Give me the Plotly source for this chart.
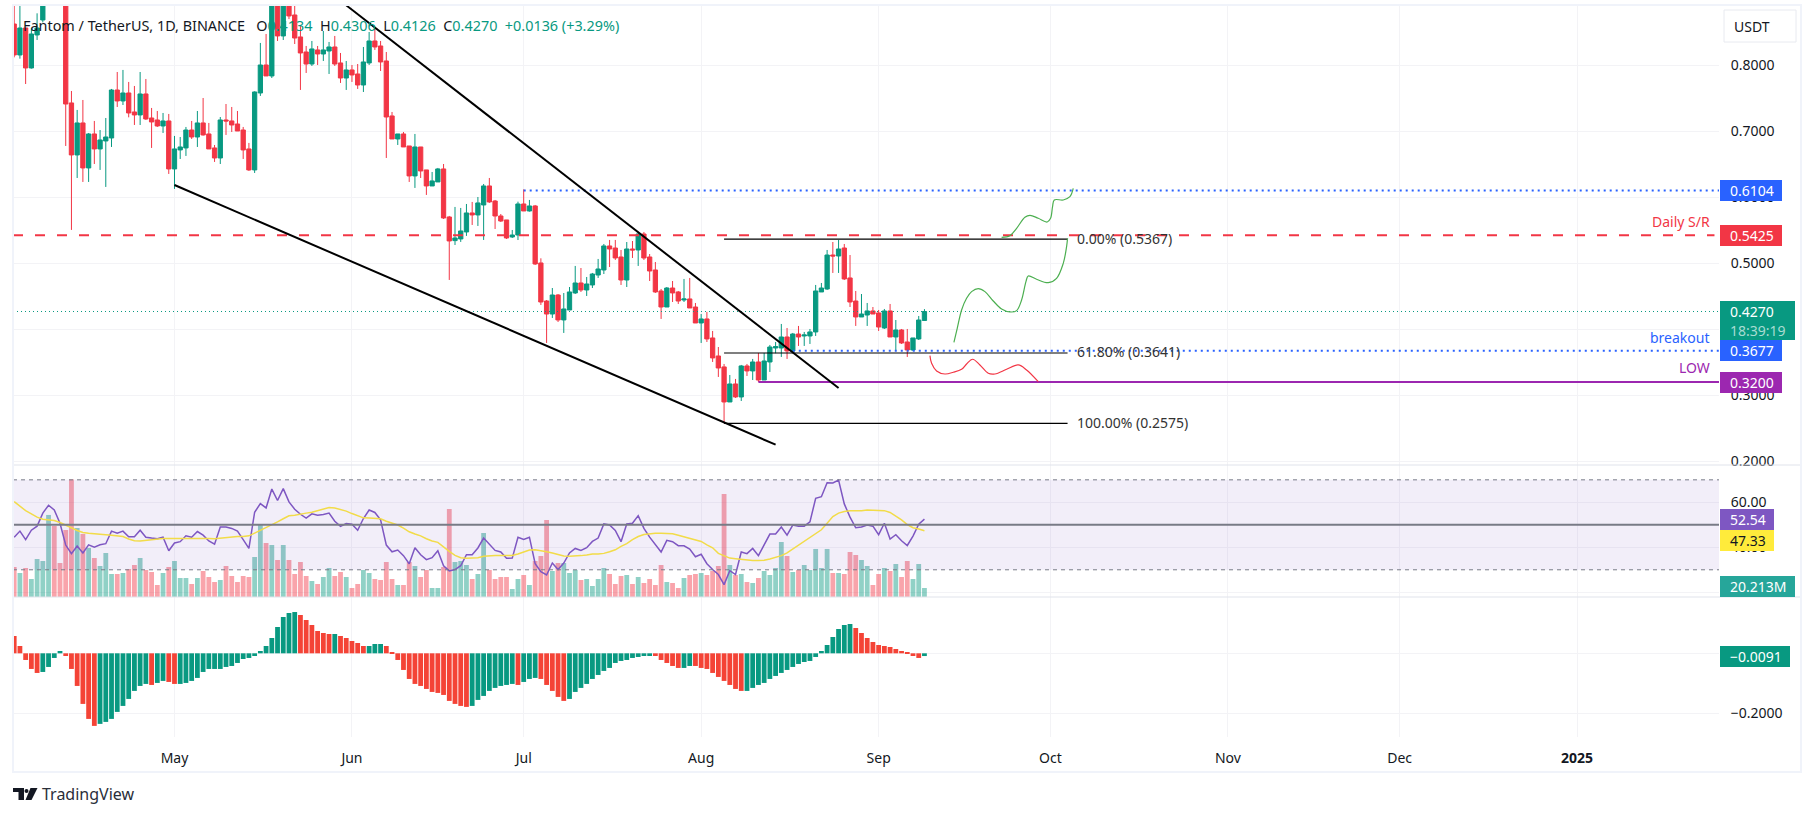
# plot.py
# Fantom / TetherUS daily chart with RSI + volume and MACD panes

import pandas as pd
import plotly.graph_objects as go
from plotly.subplots import make_subplots

# -------------------------------------------------
# 1. Data
# -------------------------------------------------
dates = pd.date_range("2024-04-03", periods=160, freq="D")

opens = [
    .8626,.8157,.8566,.796,.846,.8687,.92,.96,.945,.93,
    .743,.6642,.7127,.6445,.696,.6733,.6854,.6899,.7626,.746,
    .7581,.7293,.7248,.7566,.7202,.7172,.7081,.7157,.643,.6718,
    .6748,.702,.6914,.7127,.696,.6748,.6596,.7172,.7157,.7111,
    .702,.6733,.6415,.7581,.8005,.7839,.905,.8445,.905,.8763,
    .843,.8202,.802,.8233,.8172,.8217,.8278,.8036,.7808,.793,
    .7869,.7702,.8036,.8369,.8293,.8066,.7233,.6884,.696,.6778,
    .6324,.6763,.6415,.6172,.6233,.643,.5702,.5344,.5369,.5475,
    .5763,.5733,.5884,.6172,.5944,.5717,.5657,.5399,.5429,.5899,
    .5793,.5869,.5005,.4429,.4232,.452,.4142,.4293,.4551,.4702,
    .4596,.4672,.4823,.4899,.5263,.5232,.5096,.4747,.5217,.5202,
    .5444,.5096,.4899,.4581,.4338,.4626,.4566,.4444,.446,.4338,
    .4096,.4157,.3869,.3596,.343,.2899,.3172,.2975,.3445,.3369,
    .3505,.3232,.3505,.3717,.3717,.3884,.3672,.3929,.3899,.3899,
    .396,.4566,.4611,.5126,.5111,.5232,.4778,.4429,.4187,.4217,
    .4278,.4248,.402,.4278,.3884,.399,.3808,.3687,.3854,.4134,
]
highs = [
    .905,.90,.8566,.8561,.8788,.93,.975,.98,.96,.94,
    .7611,.7324,.7475,.6975,.7157,.702,.7202,.7642,.7899,.793,
    .7748,.7687,.7899,.7793,.7354,.7308,.7278,.7263,.693,.6914,
    .7066,.7157,.7308,.7505,.7127,.6793,.7217,.7414,.7369,.7308,
    .7066,.6824,.7606,.8339,.8475,.92,.92,.93,.925,.891,
    .8596,.8293,.8369,.8293,.852,.8354,.8445,.8187,.8066,.8005,
    .802,.8278,.8505,.8581,.8369,.8202,.7293,.696,.699,.6778,
    .696,.6763,.6415,.6384,.6445,.6505,.5718,.5854,.5839,.5899,
    .593,.6005,.6202,.6293,.596,.5747,.5657,.5505,.5934,.6121,
    .596,.5884,.5076,.4444,.4626,.4535,.455,.4641,.496,.4929,
    .4793,.4854,.5066,.5293,.5354,.5354,.5202,.5323,.5338,.5475,
    .5475,.5141,.502,.4611,.4641,.4732,.4581,.4763,.4778,.4399,
    .4232,.4263,.3975,.3732,.3475,.3308,.3248,.346,.3475,.3551,
    .3642,.3642,.3763,.3808,.4081,.402,.3945,.4051,.396,.4005,
    .4672,.4702,.5202,.5323,.5354,.5293,.5126,.4581,.4535,.4399,
    .4338,.4293,.4308,.4384,.4141,.4005,.4005,.3869,.4202,.4306,
]
lows = [
    .8121,.8101,.7717,.795,.8384,.865,.905,.925,.91,.6778,
    .5506,.6293,.6233,.6233,.6505,.6415,.6157,.6763,.7369,.7399,
    .7212,.7096,.7096,.7172,.6748,.7066,.6975,.6354,.6127,.6581,
    .6627,.6884,.6763,.6935,.6733,.6536,.6505,.6945,.699,.7005,
    .6581,.6399,.6369,.7536,.7839,.7808,.8369,.8384,.87,.8323,
    .7627,.7884,.799,.8005,.8066,.7869,.799,.7733,.7627,.7748,
    .7642,.7596,.8005,.8233,.7914,.6596,.6884,.6793,.6763,.6233,
    .6142,.6293,.6036,.6172,.6233,.5672,.4748,.5278,.5324,.5415,
    .5581,.5566,.5354,.5915,.552,.5626,.5369,.5384,.5353,.5793,
    .5783,.4975,.4369,.3793,.4172,.4111,.3945,.4293,.4535,.4566,
    .4505,.4626,.4778,.4838,.4944,.5051,.4672,.4641,.5081,.496,
    .5051,.4732,.4551,.4157,.4338,.4414,.4384,.4414,.4323,.4096,
    .3793,.3808,.3505,.3278,.2576,.2899,.296,.2914,.3293,.3232,
    .3202,.3232,.3354,.3637,.3581,.3551,.3657,.3748,.3748,.3778,
    .3899,.4566,.4596,.4854,.4854,.4747,.4338,.4051,.4187,.4051,
    .4232,.3975,.4005,.3884,.3687,.3778,.3581,.3672,.3838,.4126,
]
closes = [
    .8157,.8566,.796,.8475,.8566,.92,.96,.945,.93,.7414,
    .6642,.7127,.6445,.696,.6733,.6869,.6914,.7626,.746,.7581,
    .7278,.7248,.7566,.7187,.7142,.7081,.7157,.643,.6733,.6763,
    .702,.6914,.7127,.6945,.6733,.6596,.7172,.7157,.7096,.7005,
    .6718,.6415,.7596,.8005,.7839,.905,.8445,.905,.8748,.8414,
    .8187,.802,.8248,.8172,.8233,.8278,.802,.7808,.793,.7854,
    .7702,.8051,.8369,.8278,.8051,.7217,.6884,.696,.6763,.6324,
    .6763,.6399,.6172,.6248,.643,.5687,.5339,.5384,.549,.5763,
    .5733,.5915,.6172,.593,.5717,.5641,.5384,.5429,.5899,.5793,
    .5869,.499,.4414,.4232,.452,.4142,.4308,.4566,.4702,.4596,
    .4687,.4838,.4914,.5263,.5217,.5081,.4747,.5217,.5202,.5444,
    .5081,.4884,.4566,.4338,.4626,.4551,.4429,.446,.4323,.4096,
    .4157,.3854,.3566,.3414,.2899,.3172,.2975,.3445,.3369,.3505,
    .3232,.352,.3732,.3738,.3884,.3672,.3929,.3884,.3914,.396,
    .4581,.4626,.5126,.5111,.5217,.4763,.4414,.4187,.4232,.4278,
    .4232,.4035,.4278,.3884,.399,.3793,.3687,.3869,.4141,.4270,
]
volume_m = [
    67.4,53.9,65.2,40.4,85.4,80.9,184.3,159.5,76.4,150.5,
    264.4,155,141.6,110.1,87.6,69.7,98.9,51.7,51.7,53.9,
    62.9,71.9,87.6,60.7,56.2,27,53.9,67.4,80.9,42.7,
    42.7,29.2,42.7,58.4,44.9,33.7,38.2,69.7,47.2,33.7,
    47.2,44.9,89.9,161.8,121.3,116.8,83.1,116.8,83.1,51.7,
    78.6,47.2,36,29.2,44.9,65.2,47.2,56.2,44.9,20.2,
    29.2,60.7,53.9,40.4,38.2,78.6,40.4,27,27,78.6,
    69.7,44.9,60.7,20.2,20.2,67.4,197.7,78.6,80.9,71.9,
    40.4,51.7,143.8,60.7,40.4,44.9,44.9,18,40.4,49.4,
    27,80.9,92.1,173,58.4,76.4,76.4,53.9,60.7,38.2,
    40.4,24.7,40.4,65.2,51.7,29.2,47.2,49.4,29.2,44.9,
    31.5,40.4,27,71.9,33.7,31.5,20.2,42.7,49.4,51.7,
    53.9,49.4,58.4,69.7,231.4,71.9,49.4,51.7,33.7,31.5,
    42.7,58.4,49.4,65.2,123.6,92.1,56.2,60.7,71.9,60.7,
    107.9,65.2,107.9,53.9,53.9,51.7,101.1,94.4,83.1,69.7,
    27,51.7,65.2,58.4,74.2,44.9,80.9,40.4,74.2,20.213,
]
rsi = [
    44.5,47.2,43.4,47.6,49.4,55.2,58.7,56.6,50.7,41,
    37.2,40.6,37.5,41.1,40.1,41.1,41.6,47.2,46.3,47.2,
    44.7,44.7,47.6,44.5,44.1,43.8,44.5,38.5,41.9,42.5,
    45.1,44.5,47,45.4,42.8,41.4,49,49,48.4,47.2,
    43.4,39.5,55.6,59.4,57.5,65.9,60.8,66.1,60.2,56.9,
    54.7,53,54.9,54.3,54.6,55.2,51.6,49.3,50.6,50.3,
    47.6,52.8,56.6,55.5,52.2,41,38,38.8,36.3,32.7,
    39.8,36.7,34.5,35.4,38.5,31.8,29.5,30.1,31.8,36.7,
    36.7,39.7,44.1,41.1,38.6,37.9,35.1,35.2,44.5,43.5,
    44.5,32.7,29.2,27.7,33,30.1,33,37.5,39.5,38.6,
    39.8,42.6,44.1,50.4,49.9,47.5,42.5,50.4,50.7,54.1,
    48.4,44.5,41.1,37.9,43.1,42.5,40.7,40.7,39.2,35.8,
    36.9,32.7,30.1,27.9,23.4,29.6,27.9,37.9,37.2,39.5,
    36.3,41.1,45.9,45.9,49,45.4,49.9,49.4,49.4,51.3,
    61.8,62.5,68.7,68.6,69.9,59.3,53.4,48.7,49,49.9,
    49.4,45.6,50.7,43.7,45.6,42.9,40.8,45,50.3,52.54,
]
rsi_ma = [
    60.3,58.4,56.3,54.9,53.4,52.5,52.2,51.9,51,49.7,
    48.7,47.5,46.6,46.3,46,45.6,45.6,45.4,45.1,44.8,
    43.7,42.9,42.8,43.1,43.5,43.7,43.9,43.9,43.9,43.9,
    44.1,44.2,44.2,44.2,43.9,43.8,44.1,44.4,44.5,44.8,
    44.8,45.1,46.3,47.5,48.7,49.9,51.3,52.7,54,54.3,
    54.9,55.2,55.6,56.2,56.9,57.7,57.5,56.8,56.1,55,
    54,53.1,53,53,52.7,51.6,50.7,49.9,48.5,46.9,
    45.9,45.1,43.8,42.8,42.2,40.1,38.2,36.4,35.4,35.1,
    35.1,35.4,36,36.3,36.3,36.3,36.3,36.4,37,37.9,
    38.8,38.9,38.6,38,37.5,36.7,36.1,36,36,36.3,
    36.6,37,37,37.3,38,38.9,40.4,41.6,43.4,44.8,
    45.7,46,46.2,46.2,46.2,46,45.4,44.7,43.8,43.4,
    42.6,41.1,39.8,37.3,36.3,35.2,34.9,34.6,34.4,34.1,
    34.1,34.2,34.8,35.5,36.3,37.5,39.2,40.8,42.5,44.5,
    46.3,47.8,50.7,53.7,55.2,55.9,56.2,56.2,56.3,56.6,
    56.5,56.2,56.3,55.5,54,52.2,50.1,48.7,48.1,47.33,
]
macd_hist = [
    .0577,.0244,-.0222,-.0522,-.0655,-.0622,-.0455,-.0155,.0078,-.0089,
    -.0522,-.1088,-.1687,-.2187,-.242,-.2353,-.2287,-.2187,-.1954,-.1754,
    -.1521,-.1254,-.1088,-.1021,-.1055,-.0988,-.0921,-.0955,-.1021,-.1021,
    -.0988,-.0921,-.0821,-.0622,-.0522,-.0522,-.0522,-.0455,-.0422,-.0322,
    -.0189,-.0155,-.0089,.0078,.0244,.0511,.0877,.121,.1343,.1376,
    .1277,.111,.0944,.0744,.0677,.0644,.0644,.0577,.0511,.0411,
    .0344,.0244,.0244,.0311,.0311,.0244,.0044,-.0222,-.0555,-.0855,
    -.1021,-.1088,-.1188,-.1288,-.1321,-.1388,-.1587,-.1687,-.1754,-.1787,
    -.1754,-.1554,-.1421,-.1254,-.1154,-.1088,-.1055,-.1021,-.1055,-.0955,
    -.0855,-.0821,-.0855,-.1055,-.1254,-.1454,-.1587,-.1521,-.1288,-.1154,
    -.1021,-.0855,-.0722,-.0588,-.0488,-.0322,-.0255,-.0222,-.0155,-.0122,
    -.0089,-.0089,-.0089,-.0222,-.0322,-.0422,-.0488,-.0488,-.0422,-.0422,
    -.0488,-.0522,-.0655,-.0788,-.0921,-.1055,-.1188,-.1254,-.1254,-.1154,
    -.1055,-.0988,-.0855,-.0755,-.0655,-.0555,-.0455,-.0355,-.0289,-.0255,
    -.0122,.0078,.0278,.0544,.081,.0944,.0977,.0844,.0677,.0511,
    .0377,.0278,.0244,.0211,.0144,.0078,.0011,-.0089,-.0155,-.0091,
]
# g = histogram rising, r = falling
macd_dir = ("r"*5 + "g"*4 + "r"*6 + "g"*9 + "r" + "g"*2 + "r"*2 + "g"*21 + "r"*6 + "g"
            + "r"*5 + "g"*3 + "r"*15 + "g"*8 + "r" + "g"*3 + "r"*5 + "g"*15 + "r"*5
            + "g"*2 + "r"*9 + "g"*19 + "r"*12 + "g")

# drawings on the price pane
upper_x, upper_y = ["2024-05-31", "2024-08-25"], [.8909, .3111]
lower_x, lower_y = ["2024-05-01", "2024-08-14"], [.6186, .2252]
fib_levels = [0.5367, 0.3641, 0.2575]
fib_text = ["0.00% (0.5367)", "61.80% (0.3641)", "100.00% (0.2575)"]
fib_x = ["2024-08-05", "2024-10-04"]

# hand drawn paths: days after 1 May, price
path1_days = [136.15,136.73,137.49,138.36,139.24,140.4,141.57,143.02,144.48,145.93,
              147.1,147.97,148.73,149.13,150.59,152.63,154.08,155.25,155.83,156.0]
path1_px = [.3803,.4015,.4293,.447,.4571,.4616,.4571,.4429,.4308,.4263,
            .4283,.4444,.4722,.4808,.4758,.4707,.4773,.5,.5253,.5379]
path2_days = [144.48,145.93,147.1,148.55,149.43,150.88,152.45,153.03,153.38,153.68,155.25,156.41,156.99]
path2_px = [.5394,.5419,.553,.5697,.5727,.5682,.5626,.5682,.5859,.596,.596,.601,.6136]
path3_days = [131.96,132.25,133.12,134.58,136.04,137.49,138.36,139.41,140.69,142.15,143.31,145.35,147.39,148.84,150.88]
path3_px = [.3601,.3485,.3369,.3323,.3349,.3394,.3475,.3546,.346,.3333,.3323,.3394,.346,.3384,.3207]

month_ticks = ["2024-05-01","2024-06-01","2024-07-01","2024-08-01","2024-09-01",
               "2024-10-01","2024-11-01","2024-12-01","2025-01-01"]
month_text = ["May","Jun","Jul","Aug","Sep","Oct","Nov","Dec","<b>2025</b>"]

# -------------------------------------------------
# 2. Colors, helpers
# -------------------------------------------------
W, H = 1814, 816
GREEN, RED, BLUE, PURPLE = "#089981", "#f23645", "#2962ff", "#9c27b0"
TEXT, GRID = "#131722", "#f3f3f6"
FONT = "Noto Sans"
X_START, X_END = "2024-04-02 19:00", "2025-01-25 19:00"


def px(x):
    return x / W


def py(y):
    return 1 - y / H


def from_may(days):
    return pd.Timestamp("2024-05-01") + pd.to_timedelta(days, unit="D")


# -------------------------------------------------
# 3. Panes
# -------------------------------------------------
fig = make_subplots(
    rows=3, cols=1, shared_xaxes=True, vertical_spacing=0,
    specs=[[{}], [{"secondary_y": True}], [{}]],
)

fig.add_trace(go.Candlestick(
    x=dates, open=opens, high=highs, low=lows, close=closes,
    increasing=dict(line=dict(color=GREEN, width=1), fillcolor=GREEN),
    decreasing=dict(line=dict(color=RED, width=1), fillcolor=RED),
    whiskerwidth=0, showlegend=False,
), row=1, col=1)


def level(x0, x1, value, color, width, dash):
    fig.add_trace(go.Scatter(x=[x0, x1], y=[value, value], mode="lines", showlegend=False,
                             line=dict(color=color, width=width, dash=dash)), row=1, col=1)


level(X_START, X_END, 0.4270, GREEN, 1, "1px,3px")
level(X_START, "2025-01-25", 0.5425, RED, 2, "10px,12px")
level("2024-07-01", X_END, 0.6104, BLUE, 2, "2px,4px")
level("2024-08-17", X_END, 0.3677, BLUE, 2, "2px,4px")
level("2024-08-11", X_END, 0.3200, PURPLE, 2, "solid")

for xs, ys in [(upper_x, upper_y), (lower_x, lower_y)]:
    fig.add_trace(go.Scatter(x=xs, y=ys, mode="lines", showlegend=False,
                             line=dict(color="#000000", width=2)), row=1, col=1)
for value in fib_levels:
    fig.add_trace(go.Scatter(x=fib_x, y=[value, value], mode="lines", showlegend=False,
                             line=dict(color="#000000", width=1.2)), row=1, col=1)

for days, prices, color in [(path1_days, path1_px, "#4caf50"), (path2_days, path2_px, "#4caf50"),
                            (path3_days, path3_px, RED)]:
    fig.add_trace(go.Scatter(x=[from_may(d) for d in days], y=prices, mode="lines", showlegend=False,
                             line=dict(color=color, width=1.2, shape="spline")), row=1, col=1)

# volume sits under the RSI lines
vol_colors = ["rgba(8,153,129,0.45)" if c >= o else "rgba(242,54,69,0.45)" for o, c in zip(opens, closes)]
fig.add_trace(go.Bar(x=dates, y=volume_m, marker=dict(color=vol_colors, line_width=0), showlegend=False),
              row=2, col=1, secondary_y=False)
fig.add_trace(go.Scatter(x=dates, y=rsi, mode="lines", showlegend=False,
                         line=dict(color="#7e57c2", width=1.5)), row=2, col=1, secondary_y=True)
fig.add_trace(go.Scatter(x=dates, y=rsi_ma, mode="lines", showlegend=False,
                         line=dict(color="#ffeb3b", width=1.5)), row=2, col=1, secondary_y=True)

hist_colors = [GREEN if d == "g" else "#f44336" for d in macd_dir]
fig.add_trace(go.Bar(x=dates, y=macd_hist, marker=dict(color=hist_colors, line_width=0), showlegend=False),
              row=3, col=1)

# -------------------------------------------------
# 4. Axes
# -------------------------------------------------
fig.update_layout(
    width=W, height=H, margin=dict(l=0, r=0, t=0, b=0),
    paper_bgcolor="white", plot_bgcolor="white",
    font=dict(family=FONT, size=14, color=TEXT),
    bargap=0.16, boxgap=0.25, boxgroupgap=0, showlegend=False,
)
x_domain = [px(13), px(1719)]
fig.update_xaxes(
    domain=x_domain, range=[X_START, X_END], rangeslider_visible=False, automargin=False,
    tickmode="array", tickvals=month_ticks, ticktext=month_text,
    showgrid=True, gridcolor=GRID, gridwidth=1, zeroline=False, showline=False,
    ticks="", showticklabels=False,
)
fig.update_xaxes(showticklabels=True, ticks="outside", ticklen=8, tickcolor="rgba(0,0,0,0)",
                 tickfont=dict(size=14, color=TEXT), row=3, col=1)

axis_common = dict(side="right", showgrid=True, gridcolor=GRID, gridwidth=1, zeroline=False, showline=False,
                   automargin=False, ticks="outside", ticklen=8, tickcolor="rgba(0,0,0,0)",
                   tickfont=dict(size=14, color=TEXT))
fig.update_layout(
    yaxis=dict(domain=[py(465), py(5)], range=[0.1944, 0.8914], tickmode="array",
               tickvals=[.8, .7, .6, .5, .4, .3, .2], tickformat=".4f", **axis_common),
    yaxis2=dict(domain=[py(597), py(465)], range=[0, 296.5], visible=False, automargin=False),
    yaxis3=dict(domain=[py(597), py(465)], range=[17.9, 76.6], tickmode="array", tickvals=[60, 40, 20],
                ticktext=["60.00", "40.00", ""], **axis_common),
    yaxis4=dict(domain=[py(737), py(597)], range=[-0.279, 0.1877], tickmode="array", tickvals=[0, -0.2],
                ticktext=["", "\u22120.2000"], **axis_common),
)

# -------------------------------------------------
# 5. RSI band, frame, badges
# -------------------------------------------------
fig.add_shape(type="rect", xref="paper", yref="y3", x0=px(13), x1=px(1719), y0=30, y1=70,
              fillcolor="rgba(126,87,194,0.1)", line_width=0, layer="above")
for value, width, dash in [(70, 1, "4px,4px"), (50, 2, "solid"), (30, 1, "4px,4px")]:
    fig.add_shape(type="line", xref="paper", yref="y3", x0=px(13), x1=px(1719), y0=value, y1=value,
                  line=dict(color="#787b86", width=width, dash=dash), layer="above")


def rect(x0, y0, x1, y1, fill):
    fig.add_shape(type="rect", xref="paper", yref="paper", x0=px(x0), x1=px(x1), y0=py(y0), y1=py(y1),
                  fillcolor=fill, line_width=0, layer="above")


def label(x, y, text, color=TEXT, size=14, anchor="left"):
    fig.add_annotation(xref="paper", yref="paper", x=px(x), y=py(y), text=text, showarrow=False,
                       xanchor=anchor, yanchor="middle", align=anchor, borderpad=0, borderwidth=0,
                       font=dict(family=FONT, size=size, color=color))


# cuts the 0.2000 label at the pane edge
rect(1720, 466, 1800, 480, "white")

for y in [465, 597]:
    fig.add_shape(type="line", xref="paper", yref="paper", x0=px(13), x1=px(1801), y0=py(y), y1=py(y),
                  line=dict(color="#e0e3eb", width=1), layer="above")
fig.add_shape(type="rect", xref="paper", yref="paper", x0=px(13), x1=px(1801), y0=py(772), y1=py(5),
              line=dict(color="#f0f3fa", width=2), fillcolor="rgba(0,0,0,0)", layer="above")

badges = [
    (180, 201, 1782, BLUE, "0.6104", "white"),
    (225, 246, 1782, RED, "0.5425", "white"),
    (340, 361, 1782, BLUE, "0.3677", "white"),
    (372, 393, 1782, PURPLE, "0.3200", "white"),
    (509, 530, 1774, "#7e57c2", "52.54", "white"),
    (530, 551, 1774, "#ffeb3b", "47.33", TEXT),
    (576, 597, 1795, "#26a69a", "20.213M", "white"),
    (646, 667, 1790, GREEN, "\u22120.0091", "white"),
]
for y0, y1, x1, fill, text, color in badges:
    rect(1720, y0, x1, y1, fill)
    label(1730, (y0 + y1) / 2, text, color)

rect(1720, 301, 1795, 340, GREEN)
label(1730, 311.5, "0.4270", "white")
label(1730, 330, "18:39:19", "#a8dcd2")

fig.add_shape(type="rect", xref="paper", yref="paper", x0=px(1724), x1=px(1796), y0=py(42), y1=py(10),
              line=dict(color="#e8eaf0", width=1), fillcolor="white", layer="above")
label(1752, 26, "USDT", size=14, anchor="center")

# -------------------------------------------------
# 6. Text on the chart
# -------------------------------------------------
label(1710, 222, "Daily S/R", RED, anchor="right")
label(1710, 337, "breakout", BLUE, anchor="right")
label(1710, 368, "LOW", PURPLE, anchor="right")
for value, text in zip(fib_levels, fib_text):
    label(1077, 65.3 + (0.8 - value) * 660 - 1, text, "#333333")

val = lambda s: f'<span style="color:{GREEN}">{s}</span>'
gap = "&#160;&#160;"
label(23, 25, "Fantom / TetherUS, 1D, BINANCE" + gap + "&#160;O" + val("0.4134") + gap + "H" + val("0.4306") + gap + "L"
      + val("0.4126") + gap + "C" + val("0.4270") + gap + val("+0.0136 (+3.29%)"), size=14.4)

# TradingView mark
logo = "#131722"
rect(13, 788, 24, 792, logo)
rect(18.5, 792, 24, 800, logo)
fig.add_shape(type="circle", xref="paper", yref="paper", x0=px(24.5), x1=px(28.5), y0=py(793), y1=py(789),
              fillcolor=logo, line_width=0, layer="above")
fig.add_shape(type="path", xref="paper", yref="paper",
              path=f"M {px(30.5)} {py(788)} L {px(37.5)} {py(788)} L {px(31.5)} {py(800)} L {px(25.5)} {py(800)} Z",
              fillcolor=logo, line_width=0, layer="above")
label(42, 794, "TradingView", "#2a2e39", size=16)

# -------------------------------------------------
# 7. Export
# -------------------------------------------------
# page margin off so the figure sits at the window corner
fig.write_html("out.html", config=dict(displayModeBar=False),
               post_script="document.body.style.margin = '0';")
